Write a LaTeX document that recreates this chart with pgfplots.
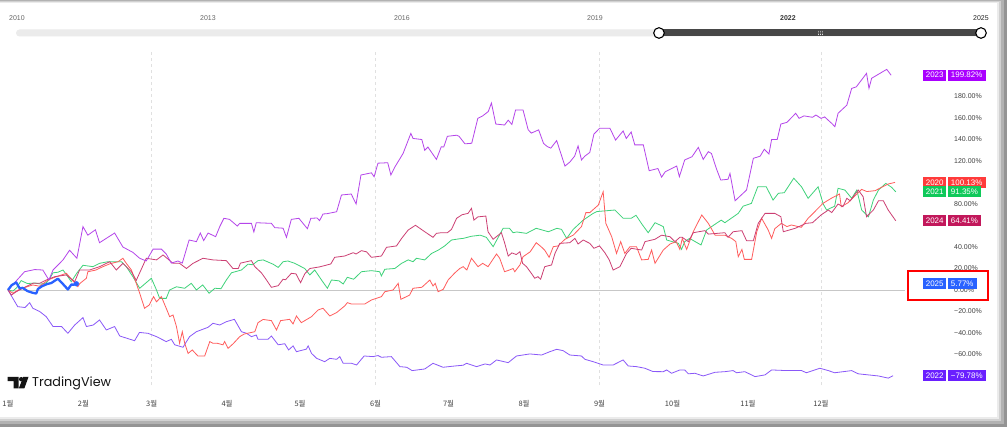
\documentclass[border=0pt]{standalone}
\usepackage{fontspec}
\setmainfont{Liberation Sans}
\newfontfamily\kr{Noto Sans CJK KR}
\newfontfamily\tvf{Poppins}
\usepackage{pgfplots}
\pgfplotsset{compat=1.18}

\definecolor{c2023}{HTML}{AA00FF}
\definecolor{c2020}{HTML}{FF3B3B}
\definecolor{c2021}{HTML}{0FC95A}
\definecolor{c2024}{HTML}{C2185B}
\definecolor{c2025}{HTML}{2962FF}
\definecolor{c2022}{HTML}{6A1FFF}
\definecolor{l2023}{HTML}{B545EA}
\definecolor{l2020}{HTML}{FF5C5C}
\definecolor{l2021}{HTML}{3FD27A}
\definecolor{l2024}{HTML}{CC3F73}
\definecolor{l2022}{HTML}{8A58F8}

\newcommand{\tvlabel}[4]{%
  \node[fill=#4, text=white, anchor=west, inner xsep=2.6bp, inner ysep=0pt,
        minimum height=11bp, font=\fontsize{8}{9}\selectfont] (yr) at (axis cs:375.9,#1) {#2};
  \node[fill=#4, text=white, anchor=west, inner xsep=3.4bp, inner ysep=0pt,
        minimum height=11bp, font=\fontsize{8}{9}\selectfont] at ([xshift=1bp]yr.east) {#3};}

\begin{document}
\begin{tikzpicture}
\path[use as bounding box] (0,0) rectangle (1007bp,427bp);
\begin{scope}[x=1bp,y=-1bp,shift={(0,427bp)}]
  \fill[black!42] (0,0) rectangle (1007,427);
  \fill[black!30] (0,0.5) rectangle (1004,424);
  \fill[black!18] (0,1.5) rectangle (1001,421);
  \fill[black!8] (0,2.5) rectangle (999,419);
  \fill[white] (0,3.5) rectangle (997,417);
  % slider
  \foreach \yr/\xx in {2010/17,2013/208,2016/402,2019/595}
    \node[font=\fontsize{7}{8}\selectfont, text=black!60, inner sep=0pt] at (\xx,18) {\yr};
  \node[font=\bfseries\fontsize{7}{8}\selectfont, text=black!80, inner sep=0pt] at (788,18) {2022};
  \node[font=\fontsize{7}{8}\selectfont, text=black!85, inner sep=0pt] at (981,18) {2025};
  \fill[black!8, rounded corners=3.5bp] (16,29.5) rectangle (985,36.5);
  \fill[black!72] (659,29.5) rectangle (981,36.5);
  \draw[black, line width=1.1bp, fill=white] (659,33) circle (5.3);
  \draw[black, line width=1.1bp, fill=white] (981,33) circle (5.3);
  \foreach \gx in {818.5,820.5,822.5}
    \foreach \gy in {31.3,33,34.7}
      \fill[white] (\gx,\gy) circle (0.45);
\end{scope}

\begin{axis}[
  at={(8bp,42bp)}, anchor=south west, scale only axis,
  width=897bp, height=335bp,
  xmin=0, xmax=368.5, ymin=-88.4, ymax=223.3,
  clip=false,
  axis line style={draw=none},
  tick style={draw=none},
  xtick={0,31,59,90,120,151,181,212,243,273,304,334},
  xticklabels={1월,2월,3월,4월,5월,6월,7월,8월,9월,10월,11월,12월},
  xticklabel style={font=\kr\fontsize{7.5}{8}\selectfont, text=black!75, inner sep=0pt, yshift=-15.5bp},
  ytick={-60,-40,-20,0,20,40,80,120,140,160,180},
  yticklabels={−60.00\%,−40.00\%,−20.00\%,0.00\%,20.00\%,40.00\%,80.00\%,120.00\%,140.00\%,160.00\%,180.00\%},
  yticklabel pos=right,
  yticklabel style={anchor=west, xshift=49bp, inner sep=0pt, font=\fontsize{7}{8}\selectfont, text=black!75},
  extra x ticks={59,151,243,334},
  extra x tick labels={},
  extra x tick style={grid=major},
  major grid style={dash pattern=on 3bp off 3bp, black!12, line width=0.8bp},
]
\addplot[black!22, line width=0.8bp, forget plot] coordinates {(0,0) (368.5,0)};

% 2022
\addplot[l2022, line width=0.8bp] coordinates {
(0,0) (2,-7.8) (4,-15.5) (7,-16.3) (8.9,-11.8) (10.2,-17) (13,-20) (15.7,-24.8) (18.5,-34) (22,-34) (24.6,-40.3) (27.4,-32.6) (30.8,-25.7) (32.2,-34) (35,-32.6) (37.6,-27.9) (40.4,-37.2) (43.8,-34) (45.9,-42.8) (52,-47.2) (54,-39.5) (57.5,-40.3) (61,-43.4) (65,-48) (67.1,-45.9) (68.5,-51) (71.9,-53.3) (74.6,-43.4) (77.4,-38.8) (82.2,-34.7) (84.2,-31) (87,-32.6) (89.7,-29.5) (93,-27.3) (95.9,-38.8) (98,-40.3) (100,-43.4) (102,-41.9) (102.7,-45.9) (106.8,-45.9) (108.2,-42.8) (111,-51) (113.7,-50) (115.3,-55.8) (117.1,-52) (118.5,-57.4) (122.6,-55) (123.3,-52) (124.7,-59) (126.8,-63.6) (130.1,-66.7) (132.2,-63.6) (135,-64.5) (136.3,-62) (137.7,-68.2) (141.1,-68.2) (143.2,-69.8) (146.3,-61.4) (150,-62) (152,-61) (153.4,-62.6) (157.5,-62) (161,-71.3) (163.8,-71.9) (166,-75) (171.2,-73.5) (174.6,-68.2) (178.7,-71.9) (183.6,-70.7) (187,-70) (188.4,-68.2) (192.5,-71.3) (196,-68.8) (198,-69.8) (200.7,-65.1) (205.5,-67.6) (208.9,-61.4) (214.4,-59.5) (219.2,-60.5) (222.6,-57.4) (225.4,-55.2) (228,-56.4) (230.8,-60.5) (235.6,-61.4) (237,-64.5) (240.4,-66.7) (244.5,-69.8) (248.6,-69.8) (252.7,-65.1) (254.8,-70.7) (258.2,-71.3) (261.6,-72.8) (265,-75.9) (269.2,-76) (270.6,-74.4) (272.6,-77.5) (276,-74.4) (278,-74.4) (279.5,-78) (282.2,-77.5) (285.6,-80) (290.4,-76.6) (294.5,-76) (297.9,-75) (299.3,-77) (302.7,-76) (306.9,-80.6) (311,-79) (313.7,-74.4) (320,-75) (326,-75) (328,-77) (333.5,-72.8) (337,-75) (339.6,-77) (346.6,-75) (349.3,-78) (357.6,-80) (361.6,-82) (363.6,-79.78)};

% 2021
\addplot[l2021, line width=0.8bp] coordinates {
(0,0) (2,-1) (3.5,2) (5.4,8.7) (8,6) (11,6.5) (13.5,5.5) (15.6,6.5) (16.8,9.3) (18.5,16) (20.5,16.5) (22.6,18.6) (24.6,12.4) (26,7.7) (28.3,15.8) (30.8,23) (34.9,21.7) (37.6,24.8) (41,26.3) (46.6,26.3) (48.6,21.7) (51.3,12.4) (54.1,1.6) (58.9,10.9) (61,0) (62.3,-7.8) (65,-7.8) (66.4,0) (69.2,3) (72.6,1.6) (75.3,6.2) (77.4,0) (80,4.7) (82.6,-3) (85,1.6) (87.5,1.2) (89.7,9.3) (91.8,16) (95.9,18.6) (98.6,24) (100.5,23.5) (102.7,27.3) (104.8,28) (108.9,24) (111,21) (113,26.3) (115,27) (117.8,24.8) (121.9,20) (124,14) (126,18.6) (128.8,9.3) (131.2,1.6) (132.9,9.3) (136,8.5) (137.7,5.6) (139.4,11.8) (142,10) (145.2,17) (149.3,18) (152.7,17) (153.4,13) (154.8,19.3) (158.9,20) (161.7,24.8) (164.4,28) (166.4,26.3) (167.8,29.5) (171.2,28) (174,34) (176.7,37) (179.4,41) (182.2,46.5) (185.6,47.7) (187,48) (190.4,50) (194,51) (196.5,49) (199.3,40.3) (203.4,57.4) (206,57.4) (207.5,53.3) (209,54) (213,52.7) (217,57.4) (222,54.2) (225.5,57.4) (227.4,56.4) (229.5,48) (232.2,56.4) (236.3,65) (240.4,71.3) (242,73) (249.3,74.4) (252.7,66.7) (256,66.7) (258,69.5) (260.5,61) (263,53.3) (265.8,62.6) (269.2,59) (270.6,46.5) (275.4,43.4) (276.7,37.8) (278,45) (280,48) (284.7,41.9) (287,55.8) (291,62) (293,65) (294.5,62.6) (300,71.3) (302,78) (305.4,80.6) (308,96) (311.5,96) (314.3,83.7) (316.5,90) (318.9,90.5) (322.8,104) (326,96) (328.7,85.3) (332.8,96) (334.9,80) (336.3,74.4) (339.6,78) (341,94.6) (343.8,93) (346.6,85.3) (348.7,93) (350.7,74.4) (353.5,68.2) (355.5,83.7) (357.6,93) (360.6,99.2) (363,95.5) (364.7,91.35)};

% 2020
\addplot[l2020, line width=0.8bp] coordinates {
(0,0) (2,-3) (5,1) (10.2,4.7) (13,3.5) (16.4,9.3) (19.9,12.4) (24,15.5) (28.7,3.1) (29.5,6) (32.2,10.9) (32.8,17) (36,18.5) (39,21.7) (42,24.5) (45.2,26.3) (47.2,29.5) (48.6,24.8) (50.7,18.6) (52.7,6.2) (54.1,-3) (56.1,-17) (58,-14) (59.8,-6.2) (61,-11) (63,-6.2) (65,-17) (66.4,-24.8) (67.8,-23.3) (69.2,-34) (70.5,-49.6) (71.6,-38.8) (72.6,-49.6) (74,-59) (75.7,-55.8) (78,-61.4) (80.8,-61.4) (82.9,-48) (84.2,-49.6) (86,-49.6) (88.3,-51) (89,-48) (90.4,-54.3) (92.5,-50) (95.2,-43.4) (97,-41) (101.4,-38.8) (102.7,-30.4) (104.8,-27.4) (108.2,-28.5) (110.3,-37.2) (112,-28.5) (115.7,-27.3) (117.1,-31.6) (118.5,-24.2) (120.5,-30.4) (124.7,-24.8) (127.4,-18.6) (129.4,-17) (132.2,-24.2) (135,-21) (138.3,-14.9) (139.4,-11.8) (141,-13) (146.6,-13) (149.3,-9.3) (153.4,-6.2) (154.8,-1.6) (158.2,0) (160.3,6.2) (161.4,-8.7) (165,-4.7) (166.4,1.6) (170,2.5) (173.3,9.3) (174.6,3.7) (175.5,6.2) (176.7,-1.6) (178.8,0.6) (180.8,9.3) (183.6,16) (185.6,20) (187,21.7) (188.5,18.6) (190.4,29.5) (193.1,21.7) (195,24.8) (197.2,21.7) (200.7,33.5) (202,29.5) (204,17) (206,18.6) (207.5,20) (208.2,17) (210.3,23.3) (211.6,31) (214.5,35.5) (217,44) (219,40.3) (220.5,37) (222.3,30.4) (224,40.3) (226,41) (228.8,47.2) (232.2,51) (235.6,59) (237.4,72) (239,72) (242.5,79) (244.5,91.4) (245.6,62) (248,49.6) (250,34) (251.7,45) (253.4,34) (255.5,40.3) (258.2,40.3) (260.3,28) (263,28.5) (264.4,37.2) (265.8,24.8) (269.2,37.2) (272,42.8) (274.5,45) (276,37.8) (277,48) (278.8,37.8) (281.5,54.2) (285,69.8) (287.7,62) (290.5,51) (294.5,51) (297.3,48) (299,45) (300,31) (301.5,37.8) (302.5,28.5) (305.5,28.5) (307.6,54.2) (309.6,66.7) (312.3,55.8) (313.7,48) (315,57) (317.7,62) (320,59) (321.8,60.5) (325.9,58.3) (328.7,66.7) (331.4,72.8) (334.8,80.6) (338.2,85.3) (341.6,89.3) (342.3,77.5) (345,81) (348.7,89.3) (350.7,93.6) (352.8,91.6) (356.2,92.4) (358.8,95.4) (361.6,98.6) (364.4,100.13)};

% 2024
\addplot[l2024, line width=0.8bp] coordinates {
(0,0) (1.4,-4.7) (3.4,-1.6) (6.8,2.5) (10.2,6.2) (13,6.2) (15.7,9.3) (19.2,12.4) (24,14) (27.4,7.7) (29.4,18.6) (33.5,18.6) (37.6,21.7) (41.8,26.3) (44.5,18.6) (47.2,24.8) (50.7,17) (52.7,9) (56.8,29.5) (61,28) (63.7,32.6) (67.8,24.8) (70.5,24.8) (73.3,20) (76,24.8) (80.1,29.5) (84.2,28) (89.7,27.3) (92.4,20) (94.6,20) (95.5,25) (100,27.3) (101.4,21.7) (104.1,16) (106.2,9.3) (108.2,2.5) (111,4) (113,10) (114,9.5) (116.4,15.5) (118.3,15) (120.2,6.8) (121.9,15) (124,20) (128,21.5) (132.6,24.2) (134.2,30.4) (138.3,31.6) (141.8,34.7) (143,33.5) (145.2,36.6) (147.3,35.5) (149.3,30.4) (153.4,31.6) (155.5,39.7) (159.6,41) (161.7,48) (164.4,55.8) (167.4,60.2) (171.2,54.2) (174.6,49) (176,52.7) (178,53.3) (180.5,53.3) (182.2,56.4) (184.3,66.7) (186.5,70) (189,71.3) (190.4,76) (191.4,65) (193,68) (196.3,68.8) (197.2,54.2) (199.3,47.2) (202.7,53.3) (204,44) (205.5,31.6) (207,34.5) (208.8,33) (210.3,35.6) (211.4,24.8) (213,21.7) (215,15.5) (216.4,10.9) (217.7,12.4) (218.8,10) (220.5,21.7) (223.3,23.3) (224.7,34) (226.7,43.4) (230.8,44) (232.9,48) (234.2,42.8) (236.3,46.5) (239,43.4) (240.7,38.8) (243,41) (245.2,34.7) (247,28) (248.6,18.6) (251.4,21.7) (254.1,34) (256,38.8) (260.3,37.2) (261.7,45) (265.8,47.2) (268.5,51) (271.9,49.6) (274,45) (276,49) (277,49) (279.5,45) (281.5,53.3) (286.3,55.2) (287.7,52) (294.5,53.3) (295.8,49) (297.9,54.2) (301.5,55.2) (303.4,45.9) (306.2,45.9) (308.2,62) (311,71.3) (315,71.3) (317.5,68.2) (318.5,54.2) (323.4,57.4) (327.8,62) (330.5,62.6) (334,69.8) (337,74.4) (338.4,72) (341,80) (343,77.5) (344.6,85.3) (346,83) (349.3,93) (351.3,86.8) (352.7,68.2) (355.5,74.4) (357.6,83) (359.6,83) (361.6,74.4) (364.7,64.41)};

% 2023
\addplot[l2023, line width=0.8bp] coordinates {
(0,0) (6.8,17) (11,19) (14.3,18.6) (16.8,9.3) (18.5,18.6) (22.6,28) (25.3,37) (28.3,29.5) (30.8,59) (32.8,51) (35.9,56) (37.6,44) (43.8,53) (47.2,40) (51.3,35) (54.1,29.5) (56.8,27) (59.6,38) (63,38) (65,33.5) (67.1,25) (69.8,27) (71.6,25) (74.4,46.5) (77.4,45) (79,53) (80.4,46) (82.2,53) (85.3,49.6) (87,59) (88.7,66.7) (91,65.7) (94.2,59.5) (95.2,62) (100,62) (101,54) (102,62.6) (108.2,62) (109.6,58) (113,57.5) (114.4,49) (116.4,65.7) (119.5,66.7) (123,57) (124.4,66.7) (127,67) (128,64.5) (129.4,70.7) (131,71) (135,72.8) (137,88.4) (141,89.3) (143,80) (145,107) (149.3,109) (150.4,105.4) (152,118) (156,118.4) (157.3,107) (159,114.7) (162.3,127) (165.5,145.7) (166.4,141) (170,140) (171.2,130) (172.5,133) (176,121.5) (178,133.3) (179,133) (180.5,143) (184.3,144) (185.3,143) (187.7,136) (190.5,136.5) (193,159.7) (195,162) (197.3,166) (198.6,174) (200.4,154.4) (204,153.5) (205.5,158) (207,154) (208.5,167.4) (211.6,167.4) (213.7,149) (215,146) (218,149) (220,136.4) (221.5,133.5) (223,132) (225.4,139) (228.8,115.3) (230.8,119) (232.8,124.6) (234.2,134) (235.6,121) (237,124.6) (239,128) (240.7,145) (243,150.4) (247.3,150.4) (249.6,139.5) (252.7,148) (254,141) (256,147) (257.5,135) (261,135) (263.4,111) (267,113) (268.5,105) (270,110) (274.7,115.3) (275.8,105.4) (278,121) (281,124) (283.6,132.7) (285.6,121.5) (287.7,128.7) (289,127) (291,113) (292.8,102.3) (295.8,103) (296.6,108.5) (298.7,83) (303.4,93) (306.2,122.5) (309,124.5) (310.7,131) (312.6,126.5) (313.7,140) (316,140) (317.5,154.4) (320,156) (323.6,164.4) (325,159.7) (327,162) (330.5,160.7) (331.9,162.8) (334,159.7) (335.5,161) (338.4,155) (339.7,152) (341,164.4) (344.6,172) (346.6,187.6) (348.5,189) (352.7,201.6) (353.7,187.6) (354.8,197) (361,205.3) (362.8,199.82)};

% 2025
\addplot[c2025, line width=2.3bp, line join=round] coordinates {
(0,0) (1.5,4.5) (3.4,7) (4.8,1.5) (6,2) (8,-1) (10,-2.5) (11.6,-3.3) (12.3,1) (14,3.5) (16,5.5) (17.8,6.5) (20.5,10.5) (22.6,5.5) (24.6,0.5) (26,5) (27,5) (28.1,5.77)};
\addplot[c2025, only marks, mark=*, mark size=2.4bp] coordinates {(28.1,5.77)};

\tvlabel{199.82}{2023}{199.82\%}{c2023}
\tvlabel{100.13}{2020}{100.13\%}{c2020}
\tvlabel{91.35}{2021}{91.35\%}{c2021}
\tvlabel{64.41}{2024}{64.41\%}{c2024}
\tvlabel{5.77}{2025}{5.77\%}{c2025}
\tvlabel{-79.78}{2022}{−79.78\%}{c2022}
\end{axis}

\begin{scope}[x=1bp,y=-1bp,shift={(0,427bp)}]
  \draw[red, line width=1.7bp] (908,271) rectangle (988,300);
  % TradingView logo
  \fill[black!92] (7.5,377) -- (18.5,377) -- (18.5,388.5) -- (13.5,388.5) -- (13.5,381.2) -- (7.5,381.2) -- cycle;
  \fill[black!92] (21.2,379.2) circle (2.2);
  \fill[black!92] (23.2,377) -- (28.5,377) -- (24.3,388.5) -- (18.8,388.5) -- cycle;
  \node[anchor=west, font=\tvf\fontsize{12.8}{14}\selectfont, text=black!92, inner sep=0pt] at (32,383) {TradingView};
\end{scope}
\end{tikzpicture}
\end{document}
